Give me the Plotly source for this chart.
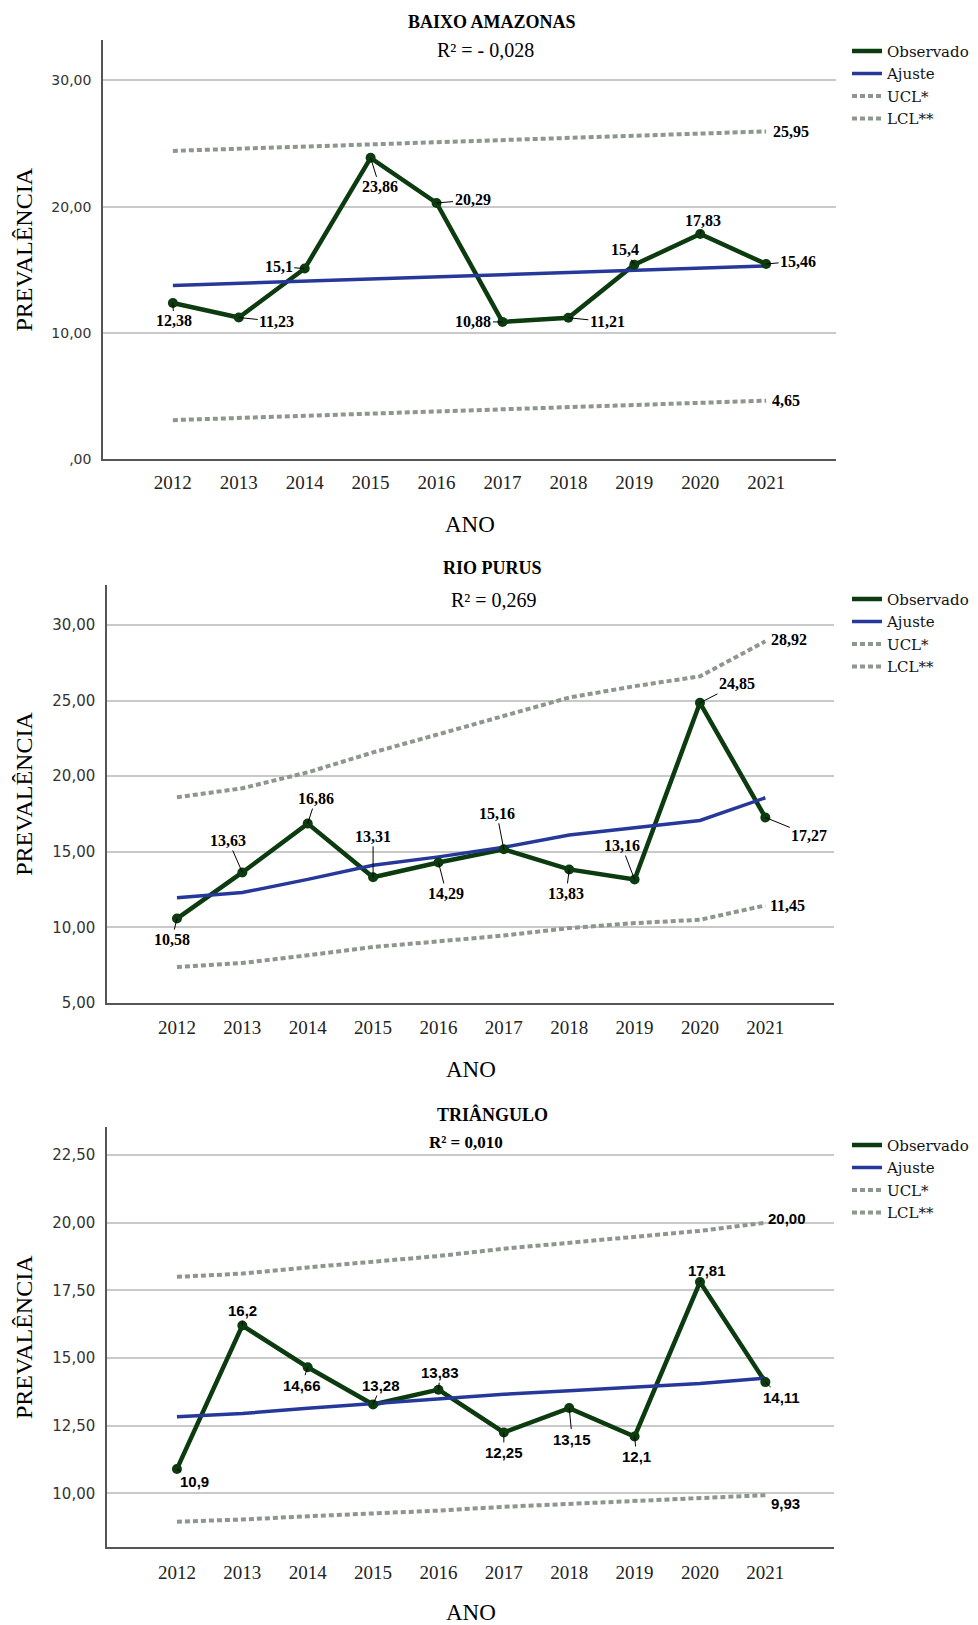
import plotly.graph_objects as go

YEARS = [2012, 2013, 2014, 2015, 2016, 2017, 2018, 2019, 2020, 2021]
YEAR_LABELS = [str(y) for y in YEARS]

# ---- BAIXO AMAZONAS ----
BA_OBS = [12.38, 11.23, 15.1, 23.86, 20.29, 10.88, 11.21, 15.4, 17.83, 15.46]
BA_FIT = [13.76, 13.93, 14.10, 14.27, 14.44, 14.61, 14.78, 14.95, 15.12, 15.30]
BA_UCL = [24.41, 24.58, 24.75, 24.92, 25.09, 25.26, 25.43, 25.61, 25.78, 25.95]
BA_LCL = [3.11, 3.28, 3.45, 3.62, 3.79, 3.96, 4.13, 4.30, 4.47, 4.65]
BA_YTICKS = [0, 10, 20, 30]
BA_YTICKTEXT = [",00", "10,00", "20,00", "30,00"]

# ---- RIO PURUS ----
RP_OBS = [10.58, 13.63, 16.86, 13.31, 14.29, 15.16, 13.83, 13.16, 24.85, 17.27]
RP_FIT = [11.96, 12.30, 13.17, 14.10, 14.66, 15.30, 16.10, 16.60, 17.07, 18.57]
RP_UCL = [18.60, 19.20, 20.25, 21.57, 22.77, 24.00, 25.20, 25.95, 26.60, 28.92]
RP_LCL = [7.38, 7.64, 8.15, 8.70, 9.07, 9.46, 9.95, 10.28, 10.50, 11.45]
RP_YTICKS = [5, 10, 15, 20, 25, 30]
RP_YTICKTEXT = ["5,00", "10,00", "15,00", "20,00", "25,00", "30,00"]

# ---- TRIÂNGULO ----
TR_OBS = [10.9, 16.2, 14.66, 13.28, 13.83, 12.25, 13.15, 12.1, 17.81, 14.11]
TR_FIT = [12.83, 12.95, 13.14, 13.32, 13.50, 13.66, 13.79, 13.93, 14.06, 14.26]
TR_UCL = [18.00, 18.12, 18.35, 18.55, 18.77, 19.04, 19.26, 19.49, 19.70, 20.00]
TR_LCL = [8.95, 9.03, 9.15, 9.25, 9.36, 9.50, 9.61, 9.70, 9.80, 9.93]
TR_YTICKS = [10, 12.5, 15, 17.5, 20, 22.5]
TR_YTICKTEXT = ["10,00", "12,50", "15,00", "17,50", "20,00", "22,50"]

TITLES = ["BAIXO AMAZONAS", "RIO PURUS", "TRIÂNGULO"]
R2_TEXT = ["R² = - 0,028", "R² = 0,269", "R² = 0,010"]
SERIES_NAMES = ["Observado", "Ajuste", "UCL*", "LCL**"]

W, H = 978, 1625
GREEN = "#0d3b10"
BLUE = "#26399a"
GRAY = "#8d978d"


def px(x):
    return x / W


def py(y):
    return 1 - y / H


panels = [
    dict(obs=BA_OBS, fit=BA_FIT, ucl=BA_UCL, lcl=BA_LCL, yt=BA_YTICKS, ytt=BA_YTICKTEXT,
         xdom=(103, 836), ydom=(40, 462), yrange=(0, 33.2), xrange=(2010.94, 2022.06),
         title_y=22, r2_y=50, r2_x=485, r2_size=20, r2_bold=False, leg_y=35, xlab_y=527,
         ytick_size=14,
         lab_font="Liberation Serif", lab_size=16,
         dx=[1, 38, -26, 9, 36, -29, 39, -9, 3, 32],
         dy=[18, 4, -2, 29, -3, 0, 4, -15, -14, -3],
         ucl_shift=(5, 0), lcl_shift=(4, 0)),
    dict(obs=RP_OBS, fit=RP_FIT, ucl=RP_UCL, lcl=RP_LCL, yt=RP_YTICKS, ytt=RP_YTICKTEXT,
         xdom=(107, 834), ydom=(588, 1008.5), yrange=(5, 32.66), xrange=(2010.93, 2022.05),
         title_y=571, r2_y=603, r2_x=494, r2_size=20, r2_bold=False, leg_y=586, xlab_y=1075,
         ytick_size=15,
         lab_font="Liberation Serif", lab_size=16,
         dx=[-5, -14, 8, 0, 8, -7, -3, -13, 37, 44],
         dy=[21, -32, -25, -41, 31, -36, 24, -34, -19, 18],
         ucl_shift=(4, 2), lcl_shift=(3, 0)),
    dict(obs=TR_OBS, fit=TR_FIT, ucl=TR_UCL, lcl=TR_LCL, yt=TR_YTICKS, ytt=TR_YTICKTEXT,
         xdom=(107, 834), ydom=(1133, 1556), yrange=(8.0, 23.55), xrange=(2010.93, 2022.05),
         title_y=1121, r2_y=1149, r2_x=466, r2_size=17, r2_bold=True, leg_y=1135, xlab_y=1621,
         ytick_size=15,
         lab_font="Liberation Sans", lab_size=15,
         dx=[18, 0, -6, 8, 2, 0, 3, 2, 7, 16],
         dy=[13, -15, 18, -19, -17, 20, 31, 20, -12, 15],
         ucl_shift=(1, 4), lcl_shift=(4, -8)),
]

fig = go.Figure()
annotations = []
layout_axes = {}

for i, p in enumerate(panels):
    n = i + 1
    xa = "x" if n == 1 else f"x{n}"
    ya = "y" if n == 1 else f"y{n}"
    leg = "legend" if n == 1 else f"legend{n}"

    fig.add_trace(go.Scatter(x=YEARS, y=p["obs"], name=SERIES_NAMES[0], mode="lines",
                             line=dict(color=GREEN, width=4.5), xaxis=xa, yaxis=ya, legend=leg))
    fig.add_trace(go.Scatter(x=YEARS, y=p["fit"], name=SERIES_NAMES[1], mode="lines",
                             line=dict(color=BLUE, width=3.5), xaxis=xa, yaxis=ya, legend=leg))
    fig.add_trace(go.Scatter(x=YEARS, y=p["ucl"], name=SERIES_NAMES[2], mode="lines",
                             line=dict(color=GRAY, width=4, dash="5px,3px"), xaxis=xa, yaxis=ya, legend=leg))
    fig.add_trace(go.Scatter(x=YEARS, y=p["lcl"], name=SERIES_NAMES[3], mode="lines",
                             line=dict(color=GRAY, width=4, dash="5px,3px"), xaxis=xa, yaxis=ya, legend=leg))
    fig.add_trace(go.Scatter(x=YEARS, y=p["obs"], mode="markers", showlegend=False,
                             marker=dict(color=GREEN, size=10), xaxis=xa, yaxis=ya))

    x0, x1 = p["xdom"]
    y0, y1 = p["ydom"]
    xkey = "xaxis" if n == 1 else f"xaxis{n}"
    ykey = "yaxis" if n == 1 else f"yaxis{n}"
    layout_axes[xkey] = dict(
        domain=[px(x0), px(x1)], range=list(p["xrange"]), anchor=ya,
        tickvals=YEARS, ticktext=YEAR_LABELS, showgrid=False, zeroline=False,
        showline=True, linecolor="#555555", linewidth=1.5, ticks="",
        tickfont=dict(family="Liberation Serif", size=19, color="#222222"),
        ticklabelstandoff=5 if n == 1 else 7, fixedrange=True)
    layout_axes[ykey] = dict(
        domain=[py(y1), py(y0)], range=list(p["yrange"]), anchor=xa,
        tickvals=p["yt"], ticktext=p["ytt"], showgrid=True, gridcolor="#c9c9c9",
        gridwidth=1.5, zeroline=False, showline=True, linecolor="#555555", linewidth=1.5,
        ticks="", tickfont=dict(family="DejaVu Sans", size=p["ytick_size"], color="#333333"),
        ticklabelstandoff=7, fixedrange=True)

    layout_axes[leg] = dict(
        x=px(847), y=py(p["leg_y"]), xanchor="left", yanchor="top",
        font=dict(family="DejaVu Serif", size=15, color="#111111"),
        bgcolor="rgba(0,0,0,0)", itemwidth=30, tracegroupgap=0)

    common = dict(xref="paper", yref="paper", showarrow=False, xanchor="center", yanchor="middle")
    # Titles
    annotations.append(dict(text="<b>" + TITLES[i] + "</b>", x=px(492), y=py(p["title_y"]),
                            font=dict(family="Liberation Serif", size=18, color="#000000"), **common))
    r2 = "<b>" + R2_TEXT[i] + "</b>" if p["r2_bold"] else R2_TEXT[i]
    annotations.append(dict(text=r2, x=px(p["r2_x"]), y=py(p["r2_y"]),
                            font=dict(family="Liberation Serif", size=p["r2_size"], color="#000000"), **common))
    # Axis titles
    annotations.append(dict(text="PREVALÊNCIA", x=px(24), y=py((y0 + y1) / 2), textangle=-90,
                            font=dict(family="Liberation Serif", size=24, color="#000000"), **common))
    annotations.append(dict(text="ANO", x=px((x0 + x1) / 2), y=py(p["xlab_y"]),
                            font=dict(family="Liberation Serif", size=23, color="#000000"), **common))

    # Data labels with leader lines
    for k, (yr, v) in enumerate(zip(YEARS, p["obs"])):
        annotations.append(dict(
            text=str(v).replace(".", ","), x=yr, y=v, xref=xa, yref=ya,
            showarrow=True, arrowhead=0, arrowwidth=1, arrowcolor="#000000",
            ax=p["dx"][k], ay=p["dy"][k], standoff=0,
            font=dict(family=p["lab_font"], size=p["lab_size"], color="#000000", weight="bold")))
    # Control-limit end labels
    for arr, sh in ((p["ucl"], p["ucl_shift"]), (p["lcl"], p["lcl_shift"])):
        annotations.append(dict(
            text=f"{arr[-1]:.2f}".replace(".", ","), x=YEARS[-1], y=arr[-1], xref=xa, yref=ya,
            showarrow=False, xanchor="left", yanchor="middle", xshift=sh[0], yshift=sh[1],
            font=dict(family=p["lab_font"], size=p["lab_size"], color="#000000", weight="bold")))

fig.update_layout(
    width=W, height=H, margin=dict(l=0, r=0, t=0, b=0),
    paper_bgcolor="white", plot_bgcolor="white",
    annotations=annotations, **layout_axes)

fig.write_html("out.html")
